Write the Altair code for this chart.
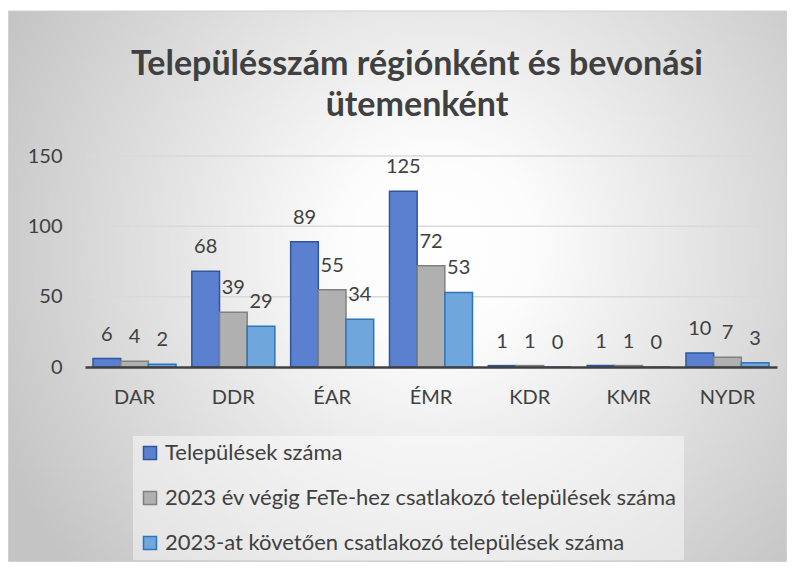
import altair as alt
import pandas as pd

regions = ["DAR", "DDR", "ÉAR", "ÉMR", "KDR", "KMR", "NYDR"]
series = [
    "Települések száma",
    "2023 év végig FeTe-hez csatlakozó települések száma",
    "2023-at követően csatlakozó települések száma",
]
total = [6, 68, 89, 125, 1, 1, 10]
until_2023 = [4, 39, 55, 72, 1, 1, 7]
after_2023 = [2, 29, 34, 53, 0, 0, 3]
y_ticks = [0, 50, 100, 150]
grid_values = [50, 100, 150]

fills = ["#5b80cf", "#b0b0b0", "#6fa7dc"]
strokes = ["#2f55a0", "#808080", "#2e75b6"]

rows = []
for s, vals in zip(series, [total, until_2023, after_2023]):
    for r, v in zip(regions, vals):
        rows.append({"region": r, "series": s, "value": v})
df = pd.DataFrame(rows)

FONT = "Lato"
TXT = "#404040"

W, H = 692, 211
PL, PT, PR, PB = 77, 148, 10, 195

bg = alt.Chart(pd.DataFrame({"a": [1]})).mark_rect(
    fill={
        "gradient": "radial",
        "x1": 0.55, "y1": 0.45, "r1": 0,
        "x2": 0.55, "y2": 0.45, "r2": 0.62,
        "stops": [
            {"offset": 0, "color": "#ffffff"},
            {"offset": 0.2, "color": "#fcfcfc"},
            {"offset": 1, "color": "#c4c4c4"},
        ],
    },
    stroke="#d0d0d0",
    strokeWidth=1,
).encode(
    x=alt.value(-PL + 0.5),
    x2=alt.value(W + PR - 0.5),
    y=alt.value(-PT + 3),
    y2=alt.value(H + PB - 0.5),
)

grid = alt.Chart(pd.DataFrame({"g": grid_values})).mark_rule(
    color="#d9d9d9", strokeWidth=1.5
).encode(y=alt.Y("g:Q", scale=alt.Scale(domain=[0, 150])))

legend_cfg = dict(
    title=None,
    orient="none",
    legendX=48,
    legendY=280,
    direction="vertical",
    columns=1,
    symbolType="square",
    symbolSize=169,
    symbolStrokeWidth=1.5,
    labelFont=FONT,
    labelFontSize=22,
    labelColor=TXT,
    labelLimit=800,
    labelOffset=4,
    rowPadding=23,
    padding=6,
    fillColor="rgba(255,255,255,0.45)",
    zindex=1,
)

base = alt.Chart(df).encode(
    x=alt.X(
        "region:N",
        sort=regions,
        scale=alt.Scale(paddingInner=0.16, paddingOuter=0.081),
        axis=alt.Axis(
            title=None, labelAngle=0, ticks=False, grid=False,
            domainColor=TXT, domainWidth=2.5,
            labelFont=FONT, labelFontSize=20, labelColor=TXT,
            labelPadding=20, zindex=1,
        ),
    ),
    xOffset=alt.XOffset("series:N", sort=series, scale=alt.Scale(paddingInner=0, paddingOuter=0)),
    y=alt.Y(
        "value:Q",
        scale=alt.Scale(domain=[0, 150]),
        axis=alt.Axis(
            title=None, values=y_ticks, grid=False, domain=False, ticks=False,
            labelFont=FONT, labelFontSize=20, labelColor=TXT,
            labelPadding=23, zindex=1,
        ),
    ),
)

bars = base.mark_bar(strokeWidth=1.5).encode(
    fill=alt.Fill("series:N", sort=series,
                  scale=alt.Scale(domain=series, range=fills),
                  legend=alt.Legend(**legend_cfg)),
    stroke=alt.Stroke("series:N", sort=series,
                      scale=alt.Scale(domain=series, range=strokes),
                      legend=alt.Legend(**legend_cfg)),
)

labels = base.mark_text(
    dy=-24, font=FONT, fontSize=20, color=TXT, baseline="middle"
).encode(text=alt.Text("value:Q"))

chart = alt.layer(bg, grid, bars, labels).properties(
    width=W,
    height=H,
    autosize="none",
    padding={"left": PL, "top": PT, "right": PR, "bottom": PB},
    title=alt.TitleParams(
        text=["Településszám régiónként és bevonási", "ütemenként"],
        font=FONT, fontSize=34, fontWeight="bold", color=TXT,
        anchor="middle", lineHeight=41, offset=-112, dx=-14, zindex=1,
    ),
).configure(background="white").configure_view(stroke=None)

chart.save("out.html", embed_options={"renderer": "svg", "actions": False})
